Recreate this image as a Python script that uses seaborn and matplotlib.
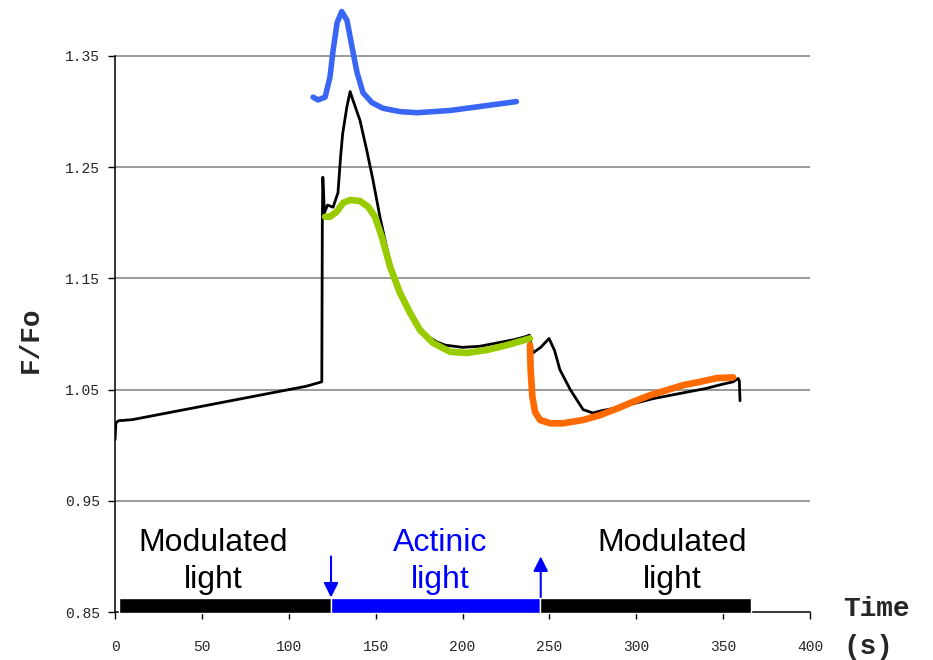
import numpy as np
import pandas as pd
import matplotlib
matplotlib.use("Agg")
import matplotlib.pyplot as plt
import seaborn as sns

time_s = [0, 0.5, 2, 10, 20, 30, 40, 50, 60, 70, 80, 90, 100, 110, 119,
          119.3, 119.6, 120.5, 122.3, 125.5, 128.3, 129.8, 131, 133.4, 135.3,
          137, 141, 144.9, 148.5, 152.5, 156, 160, 165, 170, 175, 180, 185,
          190, 200, 210, 220, 230, 237, 238.5, 239.5, 240.5, 245,
          249.8, 253, 256, 262, 269.4, 275, 280, 290, 300, 310, 320, 330,
          340, 350, 355.7, 358.6, 359.3, 359.7]
fluor = [1.005, 1.020, 1.022, 1.023, 1.026, 1.029, 1.032, 1.035, 1.038, 1.041,
         1.044, 1.047, 1.050, 1.053, 1.057,
         1.200, 1.241, 1.209, 1.216, 1.214, 1.227, 1.259, 1.280, 1.304, 1.318,
         1.310, 1.292, 1.265, 1.238, 1.205, 1.180, 1.155, 1.135, 1.118, 1.106,
         1.098, 1.093, 1.090, 1.088, 1.089, 1.092, 1.095, 1.098, 1.099,
         1.090, 1.083, 1.088, 1.096, 1.085, 1.068, 1.050, 1.032, 1.029, 1.031,
         1.034, 1.038, 1.042, 1.045, 1.048, 1.051, 1.055, 1.057, 1.060, 1.058,
         1.040]

# fitted curves
blue_t = [114.0, 116.8, 120.9, 123.7, 125.5, 127.8, 130.5, 133.5, 136.4,
          139.3, 142.7, 147.9, 154.2, 164.0, 173.8, 192.8, 212, 231]
blue_y = [1.313, 1.3105, 1.313, 1.331, 1.355, 1.380, 1.390, 1.382, 1.358,
          1.335, 1.317, 1.308, 1.303, 1.300, 1.299, 1.301, 1.305, 1.309]

green_t = [120.9, 123.7, 127.6, 131.3, 135.3, 141, 145.6, 149.6, 153.5, 158.3,
           164, 169.8, 175.5, 183, 192.8, 202.6, 214, 225.6, 238.8]
green_y = [1.2055, 1.2055, 1.210, 1.218, 1.2205, 1.2196, 1.2145, 1.2055,
           1.1875, 1.1605, 1.137, 1.119, 1.1036, 1.092, 1.084, 1.083, 1.0856,
           1.090, 1.096]

orange_t = [238.8, 239.2, 240.2, 241.7, 244.6, 250.4, 257.8, 269.4, 279.1,
            289, 298.1, 308, 317.7, 327, 336.7, 346.5, 355.7]
orange_y = [1.090, 1.0676, 1.0436, 1.030, 1.0227, 1.0197, 1.0197, 1.0227,
            1.027, 1.033, 1.039, 1.045, 1.0496, 1.054, 1.057, 1.0604, 1.061]

# light regime bars
bar_start = [2, 124.3, 244.6]
bar_end = [124.3, 244.6, 366]
bar_colors = ["black", "#0000ff", "black"]
bar_labels = ["Modulated\nlight", "Actinic\nlight", "Modulated\nlight"]
label_x = [56.4, 187, 320.6]
label_colors = ["black", "#0000ff", "black"]

yticks = [0.85, 0.95, 1.05, 1.15, 1.25, 1.35]
xticks = [0, 50, 100, 150, 200, 250, 300, 350, 400]

sns.set_style("white")
plt.rcParams["font.family"] = ["Liberation Sans", "DejaVu Sans"]

fig = plt.figure(figsize=(9.33, 6.6), dpi=100)
ax = fig.add_axes([0.1233, 0.0727, 0.7449, 0.9267])

for g in yticks[1:]:
    ax.axhline(g, color="#7f7f7f", lw=1.1, zorder=0)

sns.lineplot(x=blue_t, y=blue_y, sort=False, color="#3a66f5", lw=4.0,
             ax=ax, clip_on=False, zorder=3)
sns.lineplot(x=time_s, y=fluor, sort=False, color="black", lw=2.0,
             ax=ax, zorder=2)
sns.lineplot(x=green_t, y=green_y, sort=False, color="#99cc00", lw=4.8,
             ax=ax, zorder=3)
sns.lineplot(x=orange_t, y=orange_y, sort=False, color="#ff6a00", lw=4.8,
             ax=ax, zorder=3)
for ln in ax.lines:
    ln.set_solid_joinstyle("round")
    ln.set_solid_capstyle("round")

widths = [e - s for s, e in zip(bar_start, bar_end)]
ax.barh([0.8562] * 3, widths, left=bar_start, height=0.0135,
        color=bar_colors, clip_on=False, zorder=4)

for lab, x, c in zip(bar_labels, label_x, label_colors):
    ax.text(x, 0.8953, lab, ha="center", va="center", fontsize=23, color=c,
            linespacing=1.33)

# on / off arrows for actinic light
ax.annotate("", xy=(124.3, 0.863), xytext=(124.3, 0.900),
            arrowprops=dict(arrowstyle="-|>", color="#0000ff", lw=1.5,
                            mutation_scale=22, shrinkA=0, shrinkB=0))
ax.annotate("", xy=(245, 0.900), xytext=(245, 0.863),
            arrowprops=dict(arrowstyle="-|>", color="#0000ff", lw=1.5,
                            mutation_scale=22, shrinkA=0, shrinkB=0))

ax.set_xlim(0, 400)
ax.set_ylim(0.85, 1.40)
ax.set_xticks(xticks)
ax.set_yticks(yticks)
ax.set_xticklabels([str(v) for v in xticks])
ax.set_yticklabels([f"{v:.2f}" for v in yticks])
for lab in ax.get_xticklabels() + ax.get_yticklabels():
    lab.set_family("Liberation Mono")
    lab.set_fontsize(10.5)
ax.tick_params(axis="x", length=5, width=1, pad=15, color="black", direction="out", bottom=True)
ax.tick_params(axis="y", length=5, width=1, pad=6, color="black", direction="out", left=True)
sns.despine(ax=ax)
ax.spines["left"].set_bounds(0.85, 1.35)
for s in ["left", "bottom"]:
    ax.spines[s].set_color("black")
    ax.spines[s].set_linewidth(1.1)
ax.set_xlabel("")
ax.set_ylabel("")

fig.text(0.033, 0.485, "F/Fo", rotation=90, ha="center", va="center",
         fontsize=20, fontweight="bold", family="Liberation Mono")
fig.text(0.904, 0.049, "Time\n(s)", ha="left", va="center", fontsize=20,
         fontweight="bold", family="Liberation Mono", linespacing=1.6)

fig.savefig("out.png", dpi=100)
